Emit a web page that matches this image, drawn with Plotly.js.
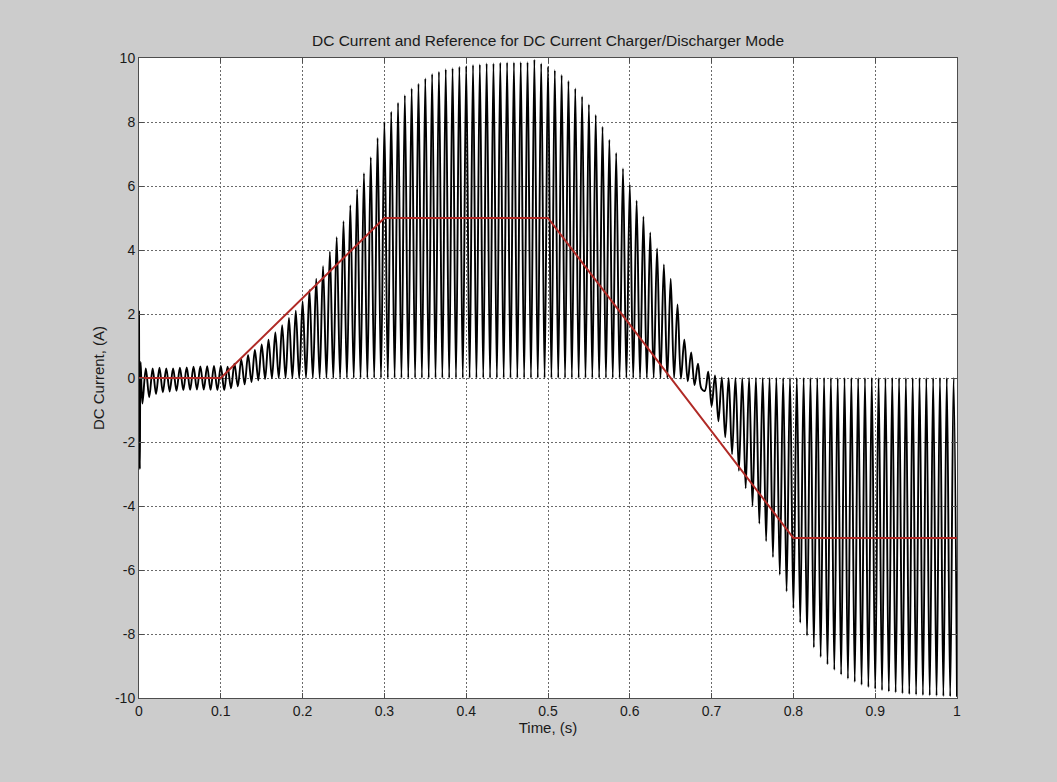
<!DOCTYPE html>
<html>
<head>
<meta charset="utf-8">
<script src="https://cdn.plot.ly/plotly-3.0.1.min.js"></script>
<style>
  html, body { margin: 0; padding: 0; background: #cccccc; }
  #chart { width: 1057px; height: 782px; }
</style>
</head>
<body>
<div id="chart"></div>
<script>
// ---- Data ----
// Oscillation frequency of the DC current ripple (cycles per second)
const rippleHz = 120;

// Start-up transient (time in s, current in A)
const startupTimes = [0, 0.001, 0.002];
const startupValues = [2.1, -2.85, 0.5];

// Crest extremes of each ripple cycle, at t = i/120 s (i = 1..120)
const crestValues = [
  0.30, 0.30, 0.32, 0.30, 0.30, 0.32, 0.33, 0.35, 0.36, 0.37,
  0.38, 0.38, 0.35, 0.45, 0.58, 0.72, 0.88, 1.05, 1.20, 1.42,
  1.65, 1.88, 2.10, 2.40, 2.75, 3.10, 3.50, 3.95, 4.40, 4.90,
  5.40, 5.90, 6.40, 6.90, 7.50, 8.00, 8.32, 8.60, 8.84, 9.05,
  9.20, 9.36, 9.50, 9.57, 9.65, 9.68, 9.73, 9.75, 9.78, 9.80,
  9.83, 9.83, 9.85, 9.86, 9.86, 9.87, 9.87, 9.95, 9.83, 9.73,
  9.62, 9.47, 9.28, 9.05, 8.80, 8.55, 8.22, 7.85, 7.45, 7.03,
  6.55, 6.05, 5.55, 5.05, 4.55, 4.05, 3.55, 3.10, 2.30, 1.20,
  0.80, 0.45, -0.40, -0.88, -1.35, -1.85, -2.38, -2.90, -3.45, -4.00,
  -4.55, -5.10, -5.60, -6.15, -6.67, -7.19, -7.65, -8.05, -8.42, -8.72,
  -8.95, -9.12, -9.27, -9.40, -9.50, -9.59, -9.66, -9.72, -9.76, -9.80,
  -9.83, -9.86, -9.88, -9.90, -9.91, -9.92, -9.93, -9.94, -9.95, -9.96
];

// Opposite extremes of each ripple cycle, at t = (i+0.5)/120 s (i = 0..119)
const baseValues = [
  -0.80, -0.60, -0.50, -0.45, -0.42, -0.40, -0.38, -0.37, -0.36, -0.36,
  -0.37, -0.38, -0.38, -0.32, -0.26, -0.20, -0.13, -0.07, -0.03, -0.01,
  0, 0, 0, 0, 0, 0, 0, 0, 0, 0,
  0, 0, 0, 0, 0, 0, 0, 0, 0, 0,
  0, 0, 0, 0, 0, 0, 0, 0, 0, 0,
  0, 0, 0, 0, 0, 0, 0, 0, 0, 0,
  0, 0, 0, 0, 0, 0, 0, 0, 0, 0,
  0, 0, 0, 0, 0, 0, 0, 0, 0, -0.02,
  -0.10, -0.22, -0.33, 0.20, 0.08, 0.02, 0, 0, 0, 0,
  0, 0, 0, 0, 0, 0, 0, 0, 0, 0,
  0, 0, 0, 0, 0, 0, 0, 0, 0, 0,
  0, 0, 0, 0, 0, 0, 0, 0, 0, 0
];

// Reference current (red trapezoid)
const refTimes = [0, 0.1, 0.3, 0.5, 0.8, 1.0];
const refValues = [0, 0, 5, 5, -5, -5];

// Axis ticks
const xTickValues = [0, 0.1, 0.2, 0.3, 0.4, 0.5, 0.6, 0.7, 0.8, 0.9, 1];
const xTickLabels = ['0', '0.1', '0.2', '0.3', '0.4', '0.5', '0.6', '0.7', '0.8', '0.9', '1'];
const yTickValues = [-10, -8, -6, -4, -2, 0, 2, 4, 6, 8, 10];
const yTickLabels = ['-10', '-8', '-6', '-4', '-2', '0', '2', '4', '6', '8', '10'];

// ---- Build the current trace from the extremes ----
const curT = startupTimes.slice();
const curY = startupValues.slice();
for (let i = 0; i < baseValues.length; i++) {
  curT.push((i + 0.5) / rippleHz);
  curY.push(baseValues[i]);
  curT.push((i + 1) / rippleHz);
  curY.push(crestValues[i]);
}

const FONT = 'Liberation Sans, Arial, Helvetica, sans-serif';

const traces = [
  {
    x: curT, y: curY, type: 'scatter', mode: 'lines',
    line: { color: '#000000', width: 1.9, shape: 'spline', smoothing: 1 },
    hoverinfo: 'skip', showlegend: false
  },
  {
    x: refTimes, y: refValues, type: 'scatter', mode: 'lines',
    line: { color: '#b02a26', width: 2 },
    hoverinfo: 'skip', showlegend: false
  }
];

const axisCommon = {
  showline: true, mirror: 'ticks', linecolor: '#4d4d4d', linewidth: 1,
  ticks: 'inside', ticklen: 5, tickcolor: '#4d4d4d', tickwidth: 1,
  showgrid: true, gridcolor: '#6a6a6a', gridwidth: 1, griddash: '2px,2px',
  zeroline: false, fixedrange: true,
  tickfont: { family: FONT, size: 14, color: '#1a1a1a' }
};

const layout = {
  width: 1057, height: 782,
  paper_bgcolor: '#cccccc', plot_bgcolor: '#ffffff',
  margin: { l: 139, r: 100, t: 58, b: 84 },
  title: {
    text: 'DC Current and Reference for DC Current Charger/Discharger Mode',
    font: { family: FONT, size: 15.5, color: '#1a1a1a' },
    x: 0.5, xref: 'paper', xanchor: 'center',
    y: 1 - 41 / 782, yref: 'container', yanchor: 'middle'
  },
  xaxis: Object.assign({}, axisCommon, {
    range: [0, 1], tickmode: 'array', tickvals: xTickValues, ticktext: xTickLabels,
    title: { text: 'Time, (s)', font: { family: FONT, size: 15, color: '#1a1a1a' }, standoff: 4 }
  }),
  yaxis: Object.assign({}, axisCommon, {
    range: [-10, 10], tickmode: 'array', tickvals: yTickValues, ticktext: yTickLabels,
    title: { text: 'DC Current, (A)', font: { family: FONT, size: 15, color: '#1a1a1a' }, standoff: 6 }
  }),
  showlegend: false
};

Plotly.newPlot('chart', traces, layout, { displayModeBar: false, staticPlot: true });
</script>
</body>
</html>
